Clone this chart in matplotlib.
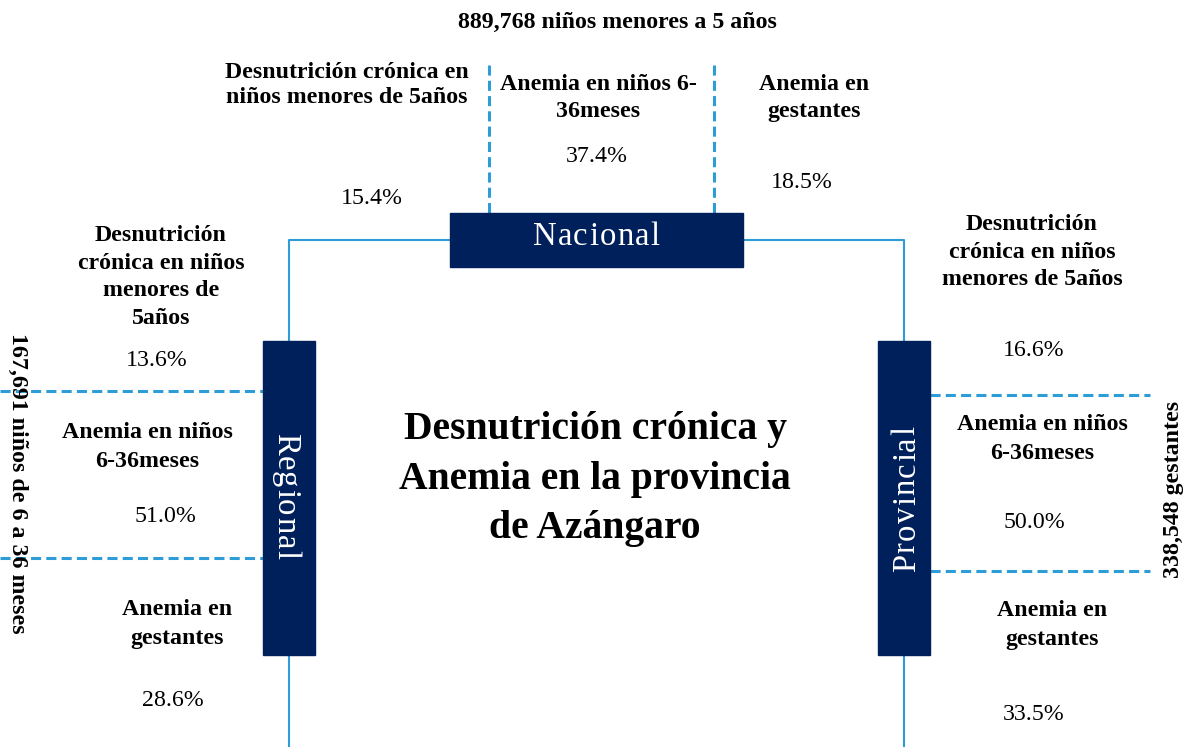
import matplotlib
matplotlib.use('Agg')
import matplotlib.pyplot as plt
from matplotlib.patches import Rectangle
from matplotlib.lines import Line2D

# ---------------- data ----------------
levels = ['Nacional', 'Regional', 'Provincial']
title = 'Desnutrición crónica y\nAnemia en la provincia\nde Azángaro'
populations = ['889,768 niños menores a 5 años',
               '167,691 niños de 6 a 36 meses',
               '338,548 gestantes']

nacional_labels = ['Desnutrición crónica en\nniños menores de 5años',
                   'Anemia en niños 6-\n36meses',
                   'Anemia en\ngestantes']
nacional_values = [15.4, 37.4, 18.5]

regional_labels = ['Desnutrición\ncrónica en niños\nmenores de\n5años',
                   'Anemia en niños\n6-36meses',
                   'Anemia en\ngestantes']
regional_values = [13.6, 51.0, 28.6]

provincial_labels = ['Desnutrición\ncrónica en niños\nmenores de 5años',
                     'Anemia en niños\n6-36meses',
                     'Anemia en\ngestantes']
provincial_values = [16.6, 50.0, 33.5]

# ---------------- style ----------------
NAVY = '#00205B'
BLUE = '#2E9DD7'
SERIF = 'Liberation Serif'
FS = 17.2

W, H = 1186, 747
fig = plt.figure(figsize=(W / 100, H / 100), dpi=100)
ax = fig.add_axes([0, 0, 1, 1])
ax.set_xlim(0, W)
ax.set_ylim(H, 0)
ax.axis('off')
renderer = fig.canvas.get_renderer()


def solid(xs, ys):
    ax.add_line(Line2D(xs, ys, color=BLUE, lw=1.5, solid_capstyle='butt'))


def dashed(xs, ys):
    ln = Line2D(xs, ys, color=BLUE, lw=2.2)
    ln.set_dashes((3.3, 1.7))
    ax.add_line(ln)


def spaced(cx, cy, s, size, track, rotation=0):
    widths = []
    for ch in s:
        t = ax.text(0, 0, ch, fontsize=size, family=SERIF)
        widths.append(t.get_window_extent(renderer).width)
        t.remove()
    total = sum(widths) + track * (len(s) - 1)
    cap = size * 100 / 72 * 0.66
    if rotation == 0:
        adv, up = (1, 0), (0, -1)
    elif rotation == -90:
        adv, up = (0, 1), (1, 0)
    else:
        adv, up = (0, -1), (-1, 0)
    bx = cx - up[0] * cap / 2 - adv[0] * total / 2
    by = cy - up[1] * cap / 2 - adv[1] * total / 2
    pos = 0
    for ch, w in zip(s, widths):
        ax.text(bx + adv[0] * pos, by + adv[1] * pos, ch, fontsize=size,
                family=SERIF, color='white', rotation=rotation,
                rotation_mode='anchor', ha='left', va='baseline', zorder=4)
        pos += w + track


def label(x, y, s, bold=True, size=FS, ls=1.0):
    ax.text(x, y, s, fontsize=size, family=SERIF,
            fontweight='bold' if bold else 'normal', ha='center',
            va='center', linespacing=ls, color='black')


def pct(v):
    return f'{v:.1f}%'

# ---------------- connectors ----------------
solid([450, 289, 289], [240, 240, 341])
solid([743, 904, 904], [240, 240, 341])
solid([289, 289], [655, H])
solid([904, 904], [655, H])

dashed([489, 489], [65, 213])
dashed([714, 714], [65, 213])
dashed([0, 263], [391, 391])
dashed([0, 263], [558, 558])
dashed([930, 1150], [395, 395])
dashed([930, 1150], [571, 571])

# ---------------- boxes ----------------
ax.add_patch(Rectangle((450, 213), 293, 54, color=NAVY, zorder=3))
ax.add_patch(Rectangle((263, 341), 52, 314, color=NAVY, zorder=3))
ax.add_patch(Rectangle((878, 341), 52, 314, color=NAVY, zorder=3))

spaced(596, 234, levels[0], 23.5, 1.3, 0)
spaced(288, 496, levels[1], 23.5, 1.3, -90)
spaced(904, 499, levels[2], 23.5, 1.3, 90)

# ---------------- texts ----------------
label(617, 22, populations[0])
ax.text(18, 483, populations[1], fontsize=FS, family=SERIF, fontweight='bold',
        rotation=-90, ha='center', va='center')
ax.text(1173, 489, populations[2], fontsize=FS, family=SERIF, fontweight='bold',
        rotation=90, ha='center', va='center')

label(347, 85, nacional_labels[0], ls=1.19)
label(598, 98, nacional_labels[1], ls=1.4)
label(814, 98, nacional_labels[2], ls=1.4)
label(372, 198, pct(nacional_values[0]), bold=False)
label(597, 157, pct(nacional_values[1]), bold=False)
label(802, 182, pct(nacional_values[2]), bold=False)

label(161, 277, regional_labels[0], ls=1.4)
label(147, 447, regional_labels[1], ls=1.55)
label(177, 624, regional_labels[2], ls=1.45)
label(157, 360, pct(regional_values[0]), bold=False)
label(165, 517, pct(regional_values[1]), bold=False)
label(173, 700, pct(regional_values[2]), bold=False)

label(1032, 252, provincial_labels[0], ls=1.42)
label(1042, 439, provincial_labels[1], ls=1.45)
label(1052, 625, provincial_labels[2], ls=1.45)
label(1034, 350, pct(provincial_values[0]), bold=False)
label(1034, 523, pct(provincial_values[1]), bold=False)
label(1034, 714, pct(provincial_values[2]), bold=False)

ax.text(595, 479, title, fontsize=28.5, family=SERIF, fontweight='bold',
        ha='center', va='center', linespacing=1.45)

fig.savefig('out.png', dpi=100, facecolor='white')
